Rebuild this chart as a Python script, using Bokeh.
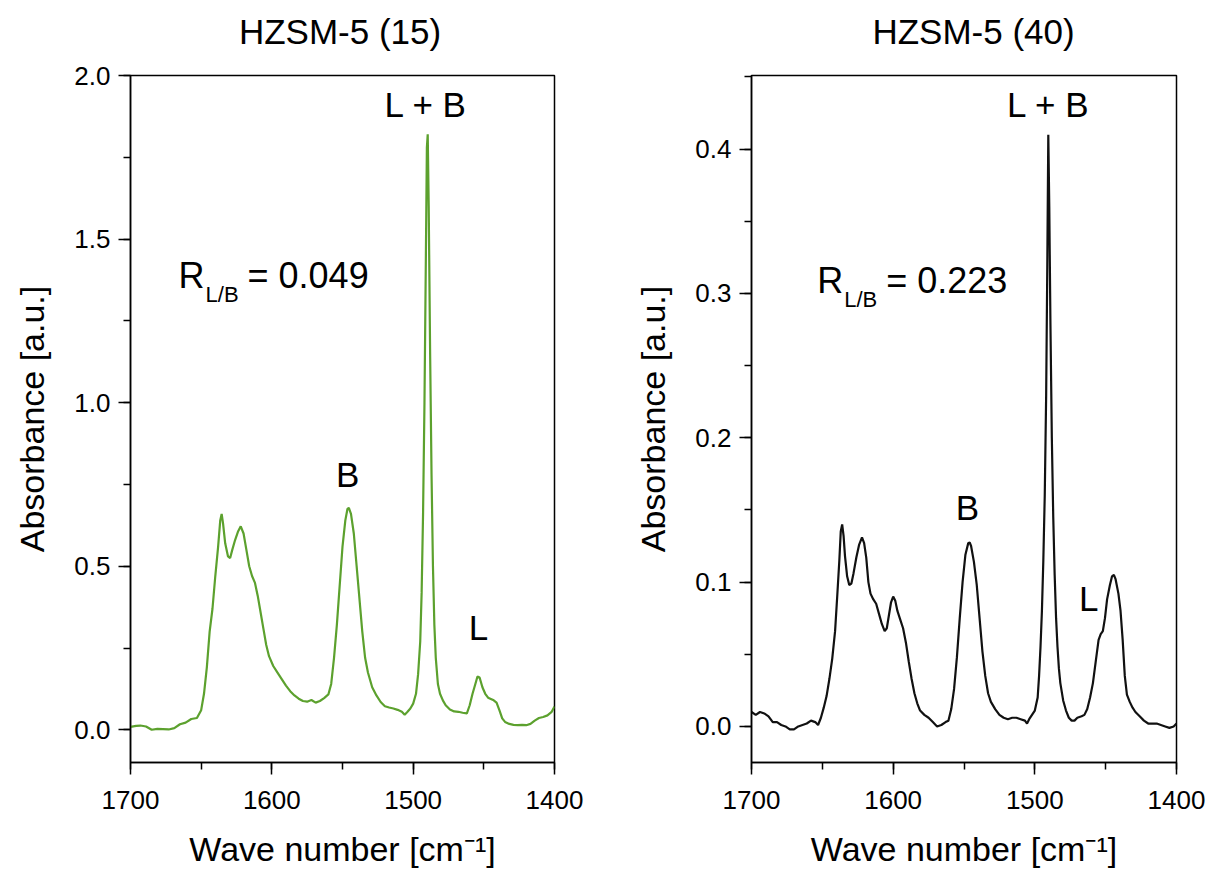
from bokeh.plotting import figure
from bokeh.layouts import row, column
from bokeh.models import Range1d, SingleIntervalTicker, PrintfTickFormatter, Label, ColumnDataSource, Div
from bokeh.embed import file_html
from bokeh.resources import INLINE

FONT = "Liberation Sans"

# ---------------- data: HZSM-5 (15) ----------------
wn_15 = [1700, 1696, 1693, 1689, 1685, 1681, 1677, 1673, 1669, 1665, 1661, 1657, 1653, 1650,
         1648, 1646, 1644, 1642, 1640, 1638, 1636.5, 1635.5, 1634.5, 1633, 1631, 1629.5, 1628,
         1626, 1624, 1622, 1620, 1618, 1616, 1614, 1612, 1610, 1608, 1606, 1604, 1602, 1599,
         1596, 1593, 1590, 1587, 1584, 1581, 1578, 1575, 1572, 1569, 1566, 1563, 1560, 1558,
         1556, 1554, 1552, 1550, 1548, 1546.5, 1545.5, 1544, 1542, 1540, 1538, 1536, 1534,
         1532, 1529, 1526, 1523, 1520, 1517, 1514, 1511, 1508, 1506, 1504, 1502, 1500, 1498,
         1496.5, 1495, 1494, 1493, 1492, 1491, 1490.3, 1489.7, 1489, 1488, 1487, 1486, 1485,
         1484, 1482.5, 1481, 1479, 1477, 1474, 1471, 1468, 1465, 1462, 1460, 1458, 1456,
         1454.5, 1453, 1451, 1449, 1447, 1445, 1443, 1441, 1439, 1437, 1435, 1432, 1429, 1426,
         1423, 1420, 1417, 1414, 1411, 1408, 1405, 1402, 1400]
abs_15 = [0.009, 0.012, 0.013, 0.010, 0.000, 0.003, 0.002, 0.001, 0.005, 0.017, 0.022, 0.033, 0.036, 0.060,
          0.11, 0.19, 0.30, 0.37, 0.47, 0.56, 0.64, 0.66, 0.63, 0.57, 0.53, 0.525, 0.55,
          0.58, 0.605, 0.622, 0.60, 0.55, 0.50, 0.47, 0.45, 0.41, 0.36, 0.31, 0.26, 0.225, 0.195,
          0.175, 0.155, 0.135, 0.118, 0.105, 0.095, 0.088, 0.086, 0.091, 0.083, 0.088, 0.097, 0.108, 0.14,
          0.22, 0.32, 0.44, 0.56, 0.64, 0.675, 0.678, 0.66, 0.60, 0.50, 0.40, 0.30, 0.22,
          0.175, 0.13, 0.105, 0.085, 0.072, 0.068, 0.065, 0.061, 0.055, 0.046, 0.055, 0.065, 0.08, 0.11,
          0.17, 0.27, 0.42, 0.66, 1.0, 1.45, 1.78, 1.82, 1.6, 1.15, 0.78, 0.50, 0.32,
          0.22, 0.14, 0.11, 0.09, 0.075, 0.062, 0.056, 0.055, 0.052, 0.05, 0.075, 0.11, 0.14,
          0.163, 0.16, 0.13, 0.11, 0.098, 0.094, 0.09, 0.083, 0.06, 0.035, 0.024, 0.018, 0.015, 0.014,
          0.015, 0.014, 0.018, 0.028, 0.036, 0.039, 0.044, 0.055, 0.071]

# ---------------- data: HZSM-5 (40) ----------------
wn_40 = [1700, 1697, 1694, 1691, 1688, 1685, 1682, 1679, 1676, 1673, 1670, 1667, 1664, 1661, 1658,
         1655, 1653, 1651, 1649, 1647, 1645, 1643, 1641, 1639.5, 1638, 1637, 1636, 1635, 1634,
         1632.5, 1631, 1629.5, 1628, 1626, 1624, 1622, 1620.5, 1619, 1617.5, 1616, 1614, 1612,
         1610, 1608, 1606, 1604.5, 1603, 1601.5, 1600, 1598.5, 1597, 1595, 1593, 1591, 1589,
         1587, 1585, 1583, 1581, 1578, 1575, 1572, 1569, 1566, 1563, 1561, 1559, 1557, 1555,
         1553, 1551, 1549, 1547, 1546, 1545, 1543, 1541, 1539, 1537, 1535, 1533, 1531, 1528,
         1525, 1522, 1519, 1516, 1513, 1510, 1507, 1505.5, 1504, 1502, 1500, 1498, 1497, 1496,
         1495, 1494, 1493, 1492, 1491.2, 1490.5, 1489.8, 1489, 1488, 1487, 1486, 1485, 1484,
         1483, 1482, 1480, 1478, 1476, 1474, 1472, 1470, 1467, 1465, 1463, 1461, 1459, 1457,
         1455, 1453.5, 1452, 1450.5, 1449, 1447, 1445.5, 1444.2, 1443, 1441, 1439.5, 1438,
         1436.5, 1435, 1433, 1431, 1429, 1426, 1423, 1420, 1417, 1414, 1411, 1408, 1405, 1402, 1400]
abs_40 = [0.010, 0.008, 0.010, 0.009, 0.007, 0.003, 0.003, 0.001, 0.000, -0.002, -0.002, 0.000, 0.001, 0.002, 0.004,
          0.003, 0.001, 0.006, 0.013, 0.021, 0.033, 0.047, 0.066, 0.090, 0.115, 0.135, 0.140, 0.132, 0.118,
          0.104, 0.098, 0.099, 0.106, 0.117, 0.126, 0.131, 0.127, 0.117, 0.100, 0.092, 0.088, 0.085,
          0.078, 0.071, 0.066, 0.068, 0.077, 0.086, 0.090, 0.087, 0.080, 0.074, 0.068, 0.058, 0.045,
          0.033, 0.023, 0.016, 0.011, 0.008, 0.006, 0.003, 0.000, 0.001, 0.003, 0.004, 0.012, 0.026, 0.048,
          0.075, 0.100, 0.119, 0.127, 0.1275, 0.125, 0.114, 0.098, 0.075, 0.052, 0.035, 0.023, 0.017, 0.012,
          0.008, 0.006, 0.005, 0.006, 0.006, 0.005, 0.004, 0.002, 0.005, 0.008, 0.011, 0.020, 0.035, 0.055,
          0.080, 0.115, 0.16, 0.23, 0.32, 0.41, 0.36, 0.28, 0.20, 0.145, 0.105, 0.075, 0.055,
          0.040, 0.030, 0.018, 0.011, 0.006, 0.004, 0.004, 0.006, 0.007, 0.008, 0.012, 0.020, 0.030, 0.045,
          0.060, 0.064, 0.066, 0.075, 0.088, 0.098, 0.104, 0.105, 0.102, 0.092, 0.080, 0.060,
          0.035, 0.022, 0.017, 0.013, 0.010, 0.007, 0.004, 0.002, 0.002, 0.002, 0.001, 0.000, -0.001, 0.000, 0.002]

titles = ["HZSM-5 (15)", "HZSM-5 (40)"]
ratios = ["= 0.049", "= 0.223"]
x_ticks_interval = 100
y_ranges = [(-0.1, 2.0), (-0.025, 0.451)]
y_intervals = [0.5, 0.1]

# annotation anchors (data coordinates)
peak_labels_15 = [("L + B", 1491, 1.872), ("B", 1546.4, 0.74), ("L", 1453.7, 0.272)]
peak_labels_40 = [("L + B", 1490.4, 0.4218), ("B", 1547.5, 0.1427), ("L", 1462, 0.0799)]
ratio_anchor_15 = (1666, 1.349)
ratio_anchor_40 = (1653.6, 0.300)

TITLE_H = 60


def make_title(text, total_width, left_pad, inner_width):
    html = ('<div style="box-sizing:border-box;margin:0;padding:12px 0 0 %dpx;width:%dpx;'
            'text-align:center;font-family:\'Liberation Sans\',Arial,sans-serif;font-size:35px;'
            'line-height:40px;color:black;white-space:nowrap;">%s</div>'
            % (left_pad, left_pad + inner_width, text))
    return Div(text=html, width=total_width, height=TITLE_H, margin=(0, 0, 0, 0))


def make_panel(wn, ab, color, yr, yint, peak_labels, ratio_anchor,
               ratio_text, border_left, border_right, fw):
    p = figure(title=None, frame_width=fw, frame_height=687,
               min_border_left=border_left, min_border_right=border_right,
               min_border_top=75 - TITLE_H, min_border_bottom=104,
               x_range=Range1d(1700, 1400), y_range=Range1d(*yr),
               output_backend="svg", toolbar_location=None)
    p.background_fill_color = "white"
    p.border_fill_color = "white"
    p.xgrid.visible = False
    p.ygrid.visible = False
    p.outline_line_color = "black"
    p.outline_line_width = 1.5
    p.outline_line_alpha = 1.0

    src = ColumnDataSource(dict(x=wn, y=ab))
    p.line("x", "y", source=src, line_color=color, line_width=2.2)

    p.xaxis.ticker = SingleIntervalTicker(interval=x_ticks_interval, num_minor_ticks=2)
    p.yaxis.ticker = SingleIntervalTicker(interval=yint, num_minor_ticks=2)
    p.yaxis.formatter = PrintfTickFormatter(format="%.1f")
    p.xaxis.axis_label = "Wave number [cm\u207b\u00b9]"
    p.yaxis.axis_label = "Absorbance [a.u.]"
    for ax in (p.xaxis, p.yaxis):
        ax.axis_line_color = "black"
        ax.axis_line_width = 1.5
        ax.major_tick_line_color = "black"
        ax.minor_tick_line_color = "black"
        ax.major_tick_line_width = 1.5
        ax.minor_tick_line_width = 1.5
        ax.major_tick_out = 12
        ax.major_tick_in = 0
        ax.minor_tick_out = 7
        ax.minor_tick_in = 0
        ax.major_label_text_font = FONT
        ax.major_label_text_font_size = "26px"
        ax.major_label_text_color = "black"
        ax.axis_label_text_font = FONT
        ax.axis_label_text_font_size = "34px"
        ax.axis_label_text_font_style = "normal"
        ax.axis_label_text_color = "black"
    p.xaxis.major_label_standoff = 16
    p.xaxis.axis_label_standoff = 18
    p.yaxis.major_label_standoff = 8
    p.yaxis.axis_label_standoff = 20

    for txt, x, y in peak_labels:
        p.add_layout(Label(x=x, y=y, y_offset=13, text=txt, text_align="center",
                           text_baseline="alphabetic", text_font=FONT, text_font_size="35px",
                           text_color="black"))
    rx, ry = ratio_anchor
    p.add_layout(Label(x=rx, y=ry, y_offset=13, text="R", text_align="left",
                       text_baseline="alphabetic", text_font=FONT, text_font_size="36px",
                       text_color="black"))
    p.add_layout(Label(x=rx, y=ry, x_offset=27, y_offset=-6, text="L/B", text_align="left",
                       text_baseline="alphabetic", text_font=FONT, text_font_size="22px",
                       text_color="black"))
    p.add_layout(Label(x=rx, y=ry, x_offset=69, y_offset=13, text=ratio_text, text_align="left",
                       text_baseline="alphabetic", text_font=FONT, text_font_size="36px",
                       text_color="black"))
    return p


p1 = make_panel(wn_15, abs_15, "#5ca12e", y_ranges[0], y_intervals[0],
                peak_labels_15, ratio_anchor_15, ratios[0], 130, 46, 424)
p2 = make_panel(wn_40, abs_40, "#111111", y_ranges[1], y_intervals[1],
                peak_labels_40, ratio_anchor_40, ratios[1], 151, 30, 425)

t1 = make_title(titles[0], 600, 128, 424)
t2 = make_title(titles[1], 606, 161, 425)

layout = column(row(t1, t2, spacing=0), row(p1, p2, spacing=0), spacing=0)
open("out.html", "w").write(file_html(layout, INLINE))
